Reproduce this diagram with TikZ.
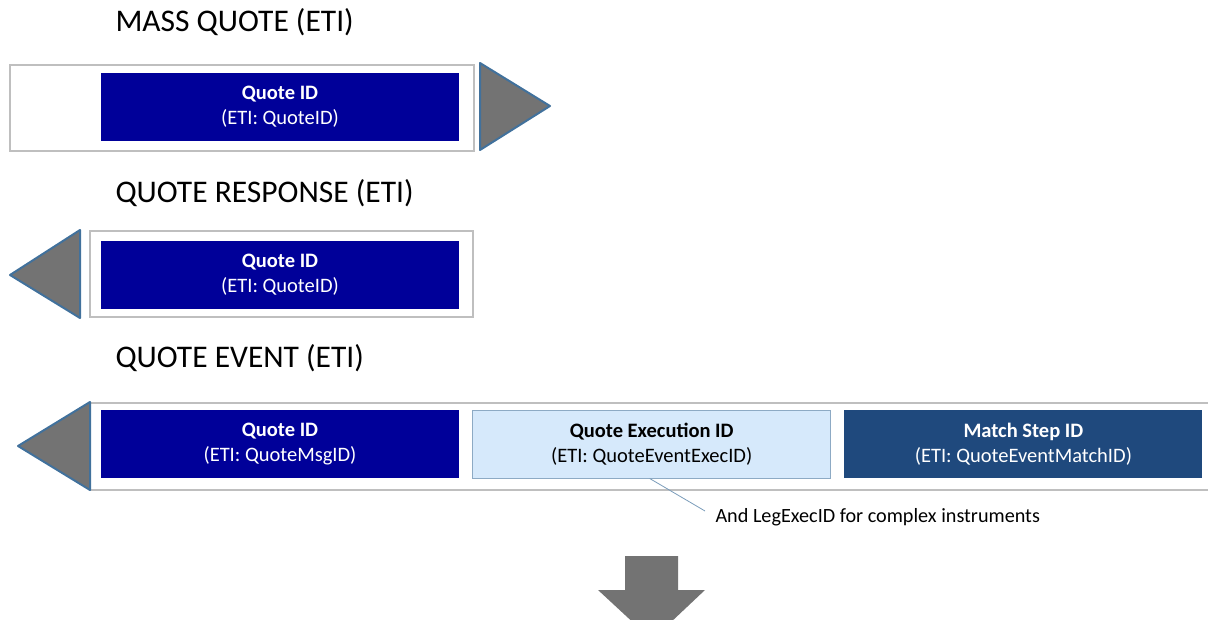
\documentclass[tikz,border=0pt]{standalone}
\usepackage{fontspec}
\setmainfont{Carlito}
\usetikzlibrary{positioning}
\definecolor{quoteblue}{RGB}{0,0,153}
\definecolor{execblue}{RGB}{214,233,251}
\definecolor{matchblue}{RGB}{31,73,125}
\definecolor{arrowgray}{RGB}{115,115,115}
\definecolor{arrowedge}{RGB}{65,113,156}
\definecolor{framegray}{RGB}{191,191,191}
\tikzset{
    title/.style={anchor=west, font=\fontsize{31.5}{36}\selectfont},
    idbox/.style={minimum width=358pt, minimum height=68pt, align=center,
        inner sep=0pt, font=\fontsize{20.5}{25}\selectfont},
    frame/.style={draw=framegray, line width=2pt, fill=white},
    tri/.style={fill=arrowgray, draw=arrowedge, line width=2pt, line join=round},
}
\begin{document}
\begin{tikzpicture}[x=1pt, y=-1pt]
\useasboundingbox (0,0) rectangle (1208,620);
% mass quote
\node[title] (mqt) at (112,22) {MASS QUOTE (ETI)};
\draw[frame] (10,65) rectangle (474,151);
\node[idbox, fill=quoteblue, text=white] (mq) at (280,107) {\textbf{Quote ID}\\(ETI: QuoteID)};
\draw[tri] (480,63) -- (550,106) -- (480,150) -- cycle;
% quote response
\node[title] (qrt) at (112,193) {QUOTE RESPONSE (ETI)};
\draw[frame] (90,231) rectangle (473,317);
\node[idbox, fill=quoteblue, text=white] (qr) at (280,275) {\textbf{Quote ID}\\(ETI: QuoteID)};
\draw[tri] (80,230) -- (10,275) -- (80,318) -- cycle;
% quote event
\node[title] (qet) at (112,358) {QUOTE EVENT (ETI)};
\draw[frame] (1212,403) -- (90,403) -- (90,490) -- (1212,490);
\node[idbox, fill=quoteblue, text=white] (qe) at (280,444) {\textbf{Quote ID}\\(ETI: QuoteMsgID)};
\node[idbox, fill=execblue, draw=arrowedge!60, line width=1pt, right=13pt of qe] (qx) {\textbf{Quote Execution ID}\\(ETI: QuoteEventExecID)};
\node[idbox, fill=matchblue, text=white, right=13pt of qx] (qm) {\textbf{Match Step ID}\\(ETI: QuoteEventMatchID)};
\draw[tri] (90,402) -- (18,446) -- (90,490) -- cycle;
% callout
\node[anchor=west, font=\fontsize{20.2}{24}\selectfont] (leg) at (712,517) {And LegExecID for complex instruments};
\coordinate (legtip) at (705,511);
\draw[arrowedge!70, line width=0.8pt] ([xshift=-2pt]qx.south) -- (legtip);
% down arrow
\fill[arrowgray] (625,556) -- (678,556) -- (678,590) -- (705,590) -- (652,640) -- (598,590) -- (625,590) -- cycle;
\end{tikzpicture}
\end{document}
